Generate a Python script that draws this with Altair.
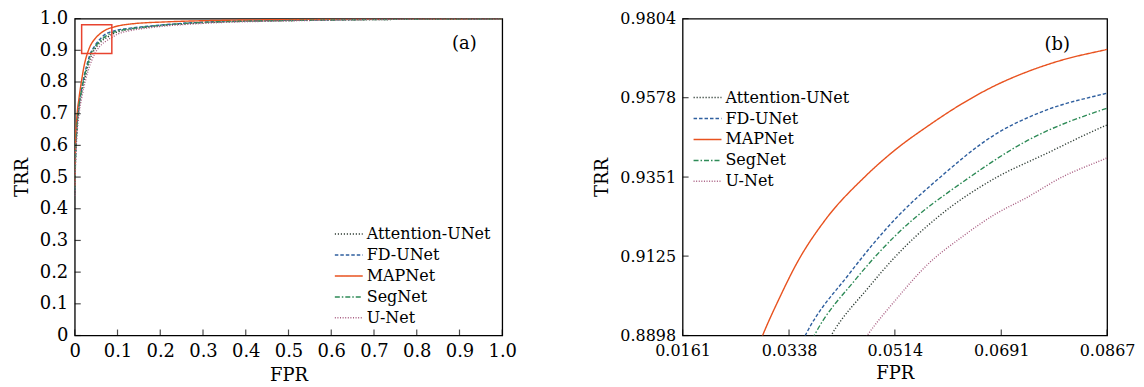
import altair as alt
import pandas as pd

MODELS = ["Attention-UNet", "FD-UNet", "MAPNet", "SegNet", "U-Net"]
COLORS = ["#2f3d35", "#2f5f9f", "#e8521f", "#2e8b57", "#a85c80"]
DASHES = [[1.2, 1.8], [3.5, 2], [1, 0], [5, 2, 1.5, 2], [1, 1.6]]

FPR_ATT = [0, 0.002, 0.005, 0.010, 0.016, 0.024, 0.033, 0.0408, 0.0471, 0.0514, 0.0585, 0.0683, 0.0762, 0.0867, 0.10, 0.13, 0.18, 0.30, 0.5, 0.7, 1.0]
TRR_ATT = [0.45, 0.565, 0.645, 0.715, 0.765, 0.815, 0.86, 0.8898, 0.9037, 0.9122, 0.9236, 0.9350, 0.9415, 0.9500, 0.958, 0.966, 0.975, 0.987, 0.994, 0.997, 1.0]

FPR_FD = [0, 0.002, 0.005, 0.010, 0.016, 0.023, 0.030, 0.0365, 0.0438, 0.0514, 0.0589, 0.0680, 0.0762, 0.0867, 0.10, 0.13, 0.18, 0.30, 0.5, 0.7, 1.0]
TRR_FD = [0.46, 0.58, 0.66, 0.73, 0.78, 0.825, 0.862, 0.8898, 0.9074, 0.9230, 0.9350, 0.9472, 0.9540, 0.9591, 0.964, 0.970, 0.977, 0.989, 0.995, 0.998, 1.0]

FPR_MAP = [0, 0.002, 0.005, 0.010, 0.016, 0.022, 0.0294, 0.0322, 0.0352, 0.0398, 0.0463, 0.0514, 0.0569, 0.0625, 0.0680, 0.0734, 0.0791, 0.0867, 0.098, 0.13, 0.218, 0.32, 0.5, 0.7, 1.0]
TRR_MAP = [0.47, 0.62, 0.69, 0.75, 0.805, 0.852, 0.8898, 0.9005, 0.9108, 0.9228, 0.9350, 0.9428, 0.9497, 0.9560, 0.9612, 0.9652, 0.9685, 0.9716, 0.976, 0.983, 0.990, 0.994, 0.997, 0.999, 1.0]

FPR_SEG = [0, 0.002, 0.005, 0.010, 0.016, 0.023, 0.031, 0.0380, 0.0448, 0.0514, 0.0638, 0.0734, 0.0867, 0.10, 0.13, 0.18, 0.30, 0.5, 0.7, 1.0]
TRR_SEG = [0.46, 0.575, 0.655, 0.725, 0.775, 0.82, 0.86, 0.8898, 0.9057, 0.9182, 0.9350, 0.9455, 0.9548, 0.961, 0.968, 0.976, 0.988, 0.994, 0.997, 1.0]

FPR_UNET = [0, 0.002, 0.005, 0.010, 0.017, 0.026, 0.036, 0.0468, 0.0514, 0.0569, 0.0625, 0.0680, 0.0734, 0.0791, 0.0867, 0.10, 0.13, 0.18, 0.30, 0.5, 0.7, 1.0]
TRR_UNET = [0.44, 0.55, 0.63, 0.70, 0.755, 0.81, 0.855, 0.8898, 0.8997, 0.9102, 0.9179, 0.9244, 0.9293, 0.9350, 0.9406, 0.951, 0.962, 0.972, 0.985, 0.993, 0.997, 1.0]

TICKS_A = [0, 0.1, 0.2, 0.3, 0.4, 0.5, 0.6, 0.7, 0.8, 0.9, 1.0]
TICKS_BX = [0.0161, 0.0338, 0.0514, 0.0691, 0.0867]
TICKS_BY = [0.8898, 0.9125, 0.9351, 0.9578, 0.9804]
ZOOM_BOX = [0.0161, 0.0867, 0.8898, 0.9804]

series = {
    "Attention-UNet": (FPR_ATT, TRR_ATT),
    "FD-UNet": (FPR_FD, TRR_FD),
    "MAPNet": (FPR_MAP, TRR_MAP),
    "SegNet": (FPR_SEG, TRR_SEG),
    "U-Net": (FPR_UNET, TRR_UNET),
}
rows = []
for m, (fx, ty) in series.items():
    for i, (f, t) in enumerate(zip(fx, ty)):
        rows.append({"model": m, "fpr": f, "trr": t, "i": i})
df = pd.DataFrame(rows)

FONT = "DejaVu Serif"


def panel(xdom, ydom, xticks, yticks, w, h, xexpr, yexpr, fs, leg_x, leg_y, tag, tag_x, tag_y, box=False):
    xs = alt.Scale(domain=xdom, nice=False, zero=False)
    ys = alt.Scale(domain=ydom, nice=False, zero=False)
    xaxis = alt.Axis(values=xticks, labelExpr=xexpr, tickSize=0, grid=False, domain=False,
                     labelFlush=False, labelPadding=7, labelFontSize=fs, labelFont=FONT,
                     labelColor="black", title="FPR", titleFont=FONT, titleFontSize=18,
                     titleFontWeight="normal", titleColor="black", titlePadding=6)
    yaxis = alt.Axis(values=yticks, labelExpr=yexpr, tickSize=0, grid=False, domain=False,
                     labelFlush=False, labelPadding=7, labelFontSize=fs, labelFont=FONT,
                     labelColor="black", title="TRR", titleFont=FONT, titleFontSize=18,
                     titleFontWeight="normal", titleColor="black", titlePadding=8)
    leg = alt.Legend(title=None, orient="none", legendX=leg_x, legendY=leg_y,
                     symbolType="stroke", symbolSize=784, symbolStrokeWidth=1.5,
                     labelFont=FONT, labelFontSize=16, labelColor="black",
                     labelOffset=3, rowPadding=0, clipHeight=20.5, padding=0)
    lines = alt.Chart(df).mark_line(clip=True, strokeWidth=1.4, interpolate="monotone").encode(
        x=alt.X("fpr:Q", scale=xs, axis=xaxis, title="FPR"),
        y=alt.Y("trr:Q", scale=ys, axis=yaxis, title="TRR"),
        color=alt.Color("model:N", scale=alt.Scale(domain=MODELS, range=COLORS), legend=leg),
        strokeDash=alt.StrokeDash("model:N", scale=alt.Scale(domain=MODELS, range=DASHES), legend=leg),
        order="i:Q",
    )
    xt = alt.Chart(pd.DataFrame({"v": xticks})).mark_tick(
        orient="vertical", size=6, thickness=1.2, color="black").encode(
        x=alt.X("v:Q", scale=xs, axis=xaxis, title="FPR"), y=alt.value(h - 3))
    yt = alt.Chart(pd.DataFrame({"v": yticks})).mark_tick(
        orient="horizontal", size=6, thickness=1.2, color="black").encode(
        y=alt.Y("v:Q", scale=ys, axis=yaxis, title="TRR"), x=alt.value(3))
    txt = alt.Chart(pd.DataFrame({"t": [tag]})).mark_text(
        font=FONT, fontSize=18, color="black").encode(
        text="t:N", x=alt.value(tag_x), y=alt.value(tag_y))
    layers = [lines, xt, yt, txt]
    if box:
        bdf = pd.DataFrame({"x0": [ZOOM_BOX[0]], "x1": [ZOOM_BOX[1]],
                            "y0": [ZOOM_BOX[2]], "y1": [ZOOM_BOX[3]]})
        rect = alt.Chart(bdf).mark_rect(fillOpacity=0, stroke="#e8432f", strokeWidth=1.5).encode(
            x=alt.X("x0:Q", scale=xs, axis=xaxis, title="FPR"), x2="x1",
            y=alt.Y("y0:Q", scale=ys, axis=yaxis, title="TRR"), y2="y1")
        layers.append(rect)
    return alt.layer(*layers).properties(width=w, height=h)


a = panel([0, 1], [0, 1], TICKS_A, TICKS_A, 429, 318,
          "datum.value == 0 ? '0' : format(datum.value, '.1f')",
          "datum.value == 0 ? '0' : format(datum.value, '.1f')",
          18, 260, 206, "(a)", 391, 25, box=True)
b = panel([0.0161, 0.0867], [0.8898, 0.9804], TICKS_BX, TICKS_BY, 426, 318,
          "format(datum.value, '.4f')", "format(datum.value, '.4f')",
          16, 10, 69, "(b)", 376, 26)

chart = alt.hconcat(a, b, spacing=76).resolve_scale(
    color="independent", strokeDash="independent", x="independent", y="independent"
).resolve_legend(color="independent", strokeDash="independent").configure_view(
    stroke="black", strokeWidth=1.3
).properties(padding={"left": 4, "top": 0, "right": 0, "bottom": 0}, background="white")

chart.save("out.html", embed_options={"renderer": "svg", "actions": False})
